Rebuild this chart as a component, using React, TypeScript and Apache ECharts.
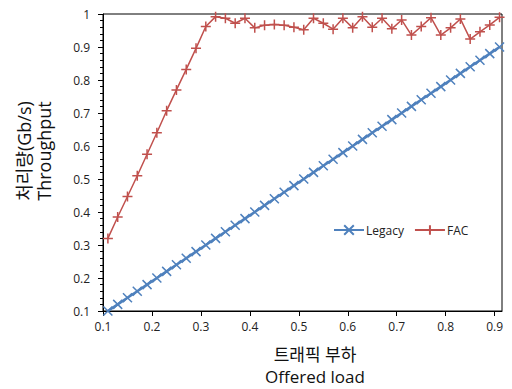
import React, { useEffect, useRef } from "react";
import * as echarts from "echarts";

const xLoad = [
  0.11, 0.13, 0.15, 0.17, 0.19, 0.21, 0.23, 0.25, 0.27, 0.29, 0.31, 0.33, 0.35, 0.37,
  0.39, 0.41, 0.43, 0.45, 0.47, 0.49, 0.51, 0.53, 0.55, 0.57, 0.59, 0.61, 0.63, 0.65,
  0.67, 0.69, 0.71, 0.73, 0.75, 0.77, 0.79, 0.81, 0.83, 0.85, 0.87, 0.89, 0.91,
];
const legacy = [
  0.10, 0.12, 0.14, 0.16, 0.18, 0.20, 0.22, 0.24, 0.26, 0.28, 0.30, 0.32, 0.34, 0.36,
  0.38, 0.40, 0.42, 0.44, 0.46, 0.48, 0.50, 0.52, 0.54, 0.56, 0.58, 0.60, 0.62, 0.64,
  0.66, 0.68, 0.70, 0.72, 0.74, 0.76, 0.78, 0.80, 0.82, 0.84, 0.86, 0.88, 0.90,
];
const fac = [
  0.32, 0.385, 0.447, 0.51, 0.575, 0.64, 0.707, 0.77, 0.832, 0.896, 0.962, 0.992, 0.987, 0.972,
  0.987, 0.958, 0.966, 0.968, 0.966, 0.96, 0.952, 0.987, 0.972, 0.954, 0.987, 0.958, 0.992, 0.96,
  0.987, 0.955, 0.982, 0.936, 0.962, 0.989, 0.936, 0.958, 0.985, 0.924, 0.946, 0.967, 0.99,
];
const xTicks = [0.1, 0.2, 0.3, 0.4, 0.5, 0.6, 0.7, 0.8, 0.9];
const seriesNames = ["Legacy", "FAC"];
const yTitle = "처리량(Gb/s)\nThroughput";
const xTitle = "트래픽 부하\nOffered load";

const FONT = "'Open Sans', 'Noto Sans CJK KR', sans-serif";

export default function App() {
  const ref = useRef<HTMLDivElement>(null);
  useEffect(() => {
    if (!ref.current) return;
    const chart = echarts.init(ref.current, null, { renderer: "svg" });
    chart.setOption({
      animation: false,
      textStyle: { fontFamily: FONT },
      grid: {
        left: 103,
        top: 14,
        right: 10,
        bottom: 78,
        show: true,
        borderColor: "#000",
        borderWidth: 1,
        backgroundColor: "transparent",
      },
      legend: {
        left: 328,
        top: 219,
        itemWidth: 30,
        itemHeight: 12,
        itemGap: 10,
        textStyle: { fontSize: 12, color: "#222", fontFamily: FONT, padding: [0, 0, 0, -3] },
        data: seriesNames,
      },
      xAxis: {
        type: "value",
        min: 0.1,
        max: 0.915,
        interval: 0.1,
        axisLine: { lineStyle: { color: "#000", width: 1 } },
        axisTick: { show: true, length: 5, lineStyle: { color: "#000" }, customValues: xTicks },
        axisLabel: {
          color: "#222",
          fontSize: 12,
          margin: 9,
          fontFamily: FONT,
          customValues: xTicks,
        },
        splitLine: { show: false },
      },
      yAxis: {
        type: "value",
        min: 0.1,
        max: 1,
        interval: 0.1,
        axisLine: { show: true, lineStyle: { color: "#000", width: 1 } },
        axisTick: { show: true, length: 5, lineStyle: { color: "#000" } },
        minorTick: { show: true, splitNumber: 5, length: 3, lineStyle: { color: "#000" } },
        axisLabel: { color: "#222", fontSize: 12, margin: 13, fontFamily: FONT },
        splitLine: { show: false },
      },
      graphic: [
        {
          type: "text",
          x: 34,
          y: 151,
          rotation: Math.PI / 2,
          style: {
            text: yTitle,
            align: "center",
            verticalAlign: "middle",
            fontSize: 18,
            lineHeight: 20,
            fill: "#111",
            fontFamily: FONT,
          },
        },
        {
          type: "text",
          x: 315,
          y: 365,
          style: {
            text: xTitle,
            align: "center",
            verticalAlign: "middle",
            fontSize: 17,
            lineHeight: 22,
            fill: "#111",
            fontFamily: FONT,
          },
        },
      ],
      series: [
        {
          name: seriesNames[0],
          type: "line",
          clip: false,
          data: xLoad.map((x, i) => [x, legacy[i]]),
          symbol: "path://M0,0L10,10M0,10L10,0",
          symbolSize: 9,
          showAllSymbol: true,
          lineStyle: { color: "#4F81BD", width: 2.5 },
          itemStyle: { color: "#4F81BD", borderColor: "#4F81BD", borderWidth: 1.5 },
        },
        {
          name: seriesNames[1],
          type: "line",
          clip: false,
          data: xLoad.map((x, i) => [x, fac[i]]),
          symbol: "path://M5,0L5,10M0,5L10,5",
          symbolSize: 10,
          showAllSymbol: true,
          lineStyle: { color: "#C0504D", width: 1.5 },
          itemStyle: { color: "#C0504D", borderColor: "#C0504D", borderWidth: 1.5 },
        },
      ],
    });
    return () => chart.dispose();
  }, []);
  return (
    <div
      ref={ref}
      style={{ position: "absolute", left: 0, top: 0, width: 512, height: 389 }}
    />
  );
}
